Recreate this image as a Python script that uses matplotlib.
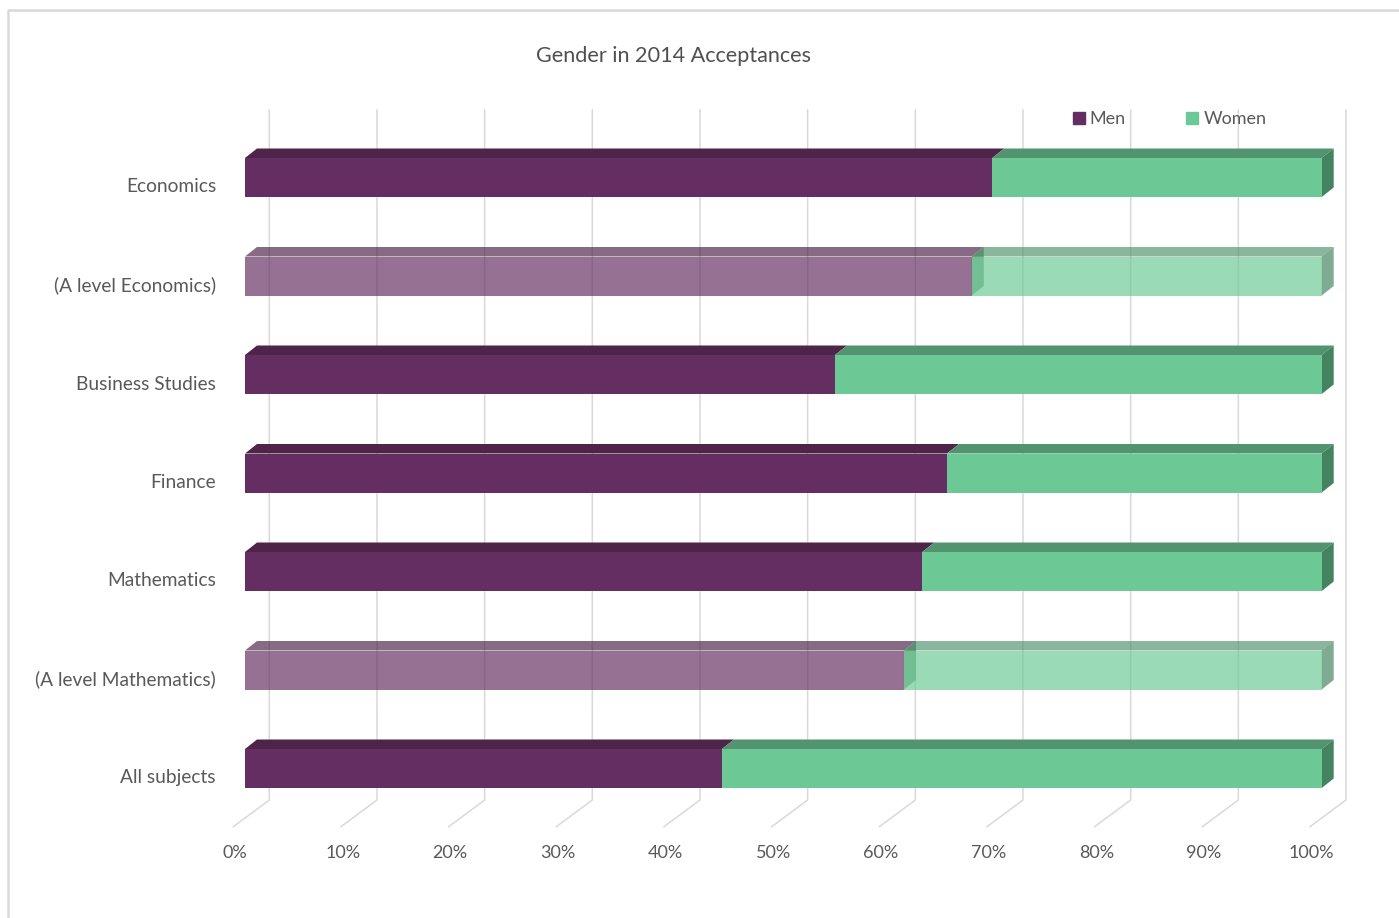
import matplotlib
matplotlib.use("Agg")
import matplotlib.pyplot as plt
from matplotlib.patches import Polygon
from matplotlib.lines import Line2D

plt.rcParams['font.family'] = ['Lato', 'DejaVu Sans']

categories = ["Economics", "(A level Economics)", "Business Studies", "Finance",
              "Mathematics", "(A level Mathematics)", "All subjects"]
men = [69.4, 67.5, 54.8, 65.2, 62.9, 61.2, 44.3]
women = [30.6, 32.5, 45.2, 34.8, 37.1, 38.8, 55.7]
faded = [False, True, False, False, False, True, False]
ticks = [0, 10, 20, 30, 40, 50, 60, 70, 80, 90, 100]

# colours: front, top, side
MEN = ("#642E62", "#4E2449", "#4A2247")
WOMEN = ("#6CC995", "#52946F", "#448360")
FADE = 0.68
TXT = "#595959"
GRID = "#D9D9D9"

W, H = 1399, 918
fig = plt.figure(figsize=(W / 100, H / 100), dpi=100)

# axes: x in percent on the front plane, one unit per category row
ax = fig.add_axes([245 / W, 1 - 817.75 / H, 1076.7 / W, 689.5 / H])
ax.set_xlim(0, 100)
ax.set_ylim(len(categories) - 0.5, -0.5)
ax.axis("off")

px_x = 100 / 1076.7   # data units per pixel, x
px_y = 1 / 98.5       # data units per pixel, y
dx, dy = 12 * px_x, 9.5 * px_y        # bar depth
wall = 24.3 * px_x                     # back wall offset of gridlines
floor_x = -11.7 * px_x                 # front edge of floor
y_top = -0.5 + (110 - 128.25) * px_y
y_back = -0.5 + (800 - 128.25) * px_y
y_floor = -0.5 + (826.7 - 128.25) * px_y
h = 39 * px_y

# wall gridlines bending onto the floor
for v in ticks:
    ax.plot([v + wall, v + wall, v + floor_x], [y_top, y_back, y_floor],
            color=GRID, lw=1.1, zorder=1, clip_on=False)
    ax.text(v + floor_x + 0.15, y_floor + 26 * px_y, f"{v}%", ha="center",
            va="center", fontsize=13, color=TXT)


def shade(c, fade):
    return matplotlib.colors.to_rgba(c, FADE if fade else 1.0)


def face(pts, c, fade):
    ax.add_patch(Polygon(pts, closed=True, fc=shade(c, fade), ec="none",
                         lw=0, zorder=2, clip_on=False))


def box_faces(x0, x1, y, fade, cols, side_left=False, side_right=False):
    y0, y1 = y - h / 2, y + h / 2
    face([(x0, y0), (x0 + dx, y0 - dy), (x1 + dx, y0 - dy), (x1, y0)], cols[1], fade)
    if side_left:
        face([(x0, y0), (x0 + dx, y0 - dy), (x0 + dx, y1 - dy), (x0, y1)], cols[2], fade)
    if side_right:
        face([(x1, y0), (x1 + dx, y0 - dy), (x1 + dx, y1 - dy), (x1, y1)], cols[2], fade)


rows = list(range(len(categories)))
total = [m + w for m, w in zip(men, women)]
men_pct = [m / t * 100 for m, t in zip(men, total)]
women_pct = [w / t * 100 for w, t in zip(women, total)]

for i in rows:
    box_faces(0, men_pct[i], i, faded[i], MEN)
    box_faces(men_pct[i], 100, i, faded[i], WOMEN, side_left=faded[i], side_right=True)

ax.barh(rows, men_pct, height=h, color=[shade(MEN[0], f) for f in faded],
        lw=0, zorder=3)
ax.barh(rows, women_pct, left=men_pct, height=h,
        color=[shade(WOMEN[0], f) for f in faded], lw=0, zorder=3)

for i, name in enumerate(categories):
    ax.text(-29 * px_x, i + 9.5 * px_y, name, ha="right", va="center",
            fontsize=13.8, color=TXT)

fig.text(674 / W, 1 - 56 / H, "Gender in 2014 Acceptances", ha="center",
         va="center", fontsize=15.6, color="#505050")

handles = [Line2D([], [], ls="none", marker="s", ms=9, mfc=MEN[0], mec=MEN[0]),
           Line2D([], [], ls="none", marker="s", ms=9, mfc=WOMEN[0], mec=WOMEN[0])]
fig.legend(handles, ["Men", "Women"], loc="center",
           bbox_to_anchor=(1168 / W, 1 - 119 / H), ncol=2, frameon=False,
           fontsize=13, handletextpad=0.1, columnspacing=3.2, labelcolor=TXT,
           handlelength=1.0)

# chart area border (left and top edges lie inside the image)
fig.add_artist(Line2D([8 / W, 8 / W, 1.0], [0.0, 1 - 10 / H, 1 - 10 / H],
                      transform=fig.transFigure, color="#D9D9D9", lw=1.8))

fig.savefig("out.png", dpi=100)
